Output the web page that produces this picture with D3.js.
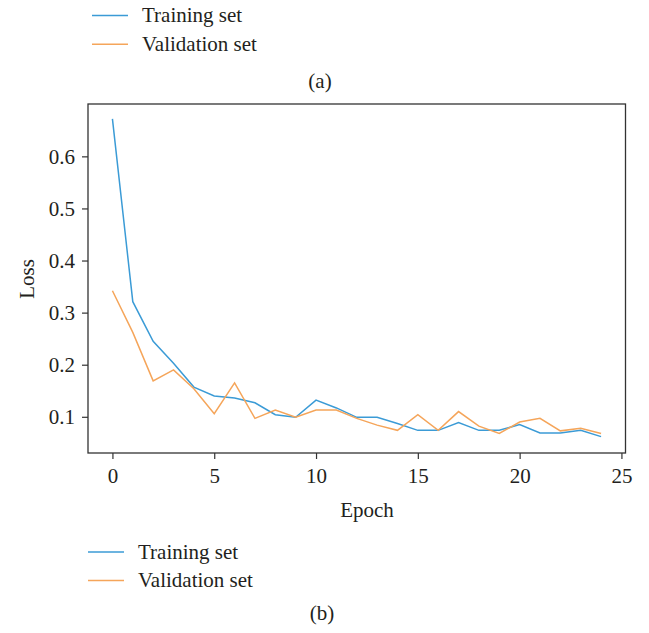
<!DOCTYPE html>
<html>
<head>
<meta charset="utf-8">
<script src="https://cdn.jsdelivr.net/npm/d3@7"></script>
<style>
  body { margin: 0; background: #fff; }
  text { font-family: "Liberation Serif", "Times New Roman", serif; fill: #231f20; }
</style>
</head>
<body>
<div id="chart"></div>
<script>
// loss per epoch
var epochs = d3.range(0, 25);
var training = [0.672, 0.321, 0.245, 0.203, 0.157, 0.140, 0.136, 0.127, 0.104, 0.099,
                0.132, 0.117, 0.099, 0.099, 0.087, 0.074, 0.074, 0.089, 0.074, 0.074,
                0.085, 0.069, 0.069, 0.074, 0.062];
var validation = [0.342, 0.262, 0.169, 0.190, 0.154, 0.106, 0.165, 0.097, 0.113, 0.099,
                  0.113, 0.113, 0.097, 0.084, 0.074, 0.104, 0.074, 0.110, 0.082, 0.068,
                  0.090, 0.097, 0.073, 0.078, 0.068];
var xTicks = [0, 5, 10, 15, 20, 25];
var yTicks = [0.1, 0.2, 0.3, 0.4, 0.5, 0.6];
var seriesNames = ["Training set", "Validation set"];
var colors = ["#3b9bd6", "#f5a55a"];

var width = 649, height = 633;
var fontSize = 21;
// plot frame (note: "top" is reserved on window, so use plot* names)
var plotL = 88, plotR = 625.5, plotT = 104, plotB = 453;

var svg = d3.select("#chart").append("svg")
    .attr("width", width)
    .attr("height", height);

var x = d3.scaleLinear().domain([-1.2, 25.2]).range([plotL, plotR]);
var y = d3.scaleLinear().domain([0.0305, 0.7005]).range([plotB, plotT]);

// axes
svg.append("g")
    .attr("transform", `translate(0,${plotB})`)
    .call(d3.axisBottom(x).tickValues(xTicks).tickSize(6).tickPadding(9).tickFormat(d3.format("d")))
    .call(g => g.select(".domain").remove())
    .call(g => g.selectAll("line").attr("stroke", "#333").attr("stroke-width", 1.2))
    .call(g => g.selectAll("text").attr("font-size", fontSize).attr("fill", "#231f20")
        .attr("font-family", "Liberation Serif, serif"));

svg.append("g")
    .attr("transform", `translate(${plotL},0)`)
    .call(d3.axisLeft(y).tickValues(yTicks).tickSize(6).tickPadding(7).tickFormat(d3.format(".1f")))
    .call(g => g.select(".domain").remove())
    .call(g => g.selectAll("line").attr("stroke", "#333").attr("stroke-width", 1.2))
    .call(g => g.selectAll("text").attr("font-size", fontSize).attr("fill", "#231f20")
        .attr("font-family", "Liberation Serif, serif"));

// frame
svg.append("rect")
    .attr("x", plotL).attr("y", plotT)
    .attr("width", plotR - plotL).attr("height", plotB - plotT)
    .attr("fill", "none").attr("stroke", "#333").attr("stroke-width", 1.3);

// lines
var line = d3.line()
    .x((d, i) => x(epochs[i]))
    .y(d => y(d));

[training, validation].forEach(function (s, i) {
    svg.append("path")
        .datum(s)
        .attr("d", line)
        .attr("fill", "none")
        .attr("stroke", colors[i])
        .attr("stroke-width", 1.5);
});

// axis titles
svg.append("text")
    .attr("x", 367)
    .attr("y", 517)
    .attr("text-anchor", "middle")
    .attr("font-size", fontSize)
    .text("Epoch");

svg.append("text")
    .attr("transform", "translate(34,279) rotate(-90)")
    .attr("text-anchor", "middle")
    .attr("font-size", fontSize)
    .text("Loss");

// legends + panel labels
function legend(x0, x1, tx, ys, label, lx, ly) {
    seriesNames.forEach(function (name, i) {
        svg.append("line")
            .attr("x1", x0).attr("x2", x1)
            .attr("y1", ys[i]).attr("y2", ys[i])
            .attr("stroke", colors[i]).attr("stroke-width", 1.5);
        svg.append("text")
            .attr("x", tx).attr("y", ys[i] + 6.5)
            .attr("font-size", fontSize)
            .text(name);
    });
    svg.append("text")
        .attr("x", lx).attr("y", ly)
        .attr("text-anchor", "middle")
        .attr("font-size", fontSize)
        .text(label);
}

legend(92, 128, 142, [15.5, 44.3], "(a)", 320, 88);
legend(88, 124, 138, [552, 580.5], "(b)", 322, 620);
</script>
</body>
</html>
